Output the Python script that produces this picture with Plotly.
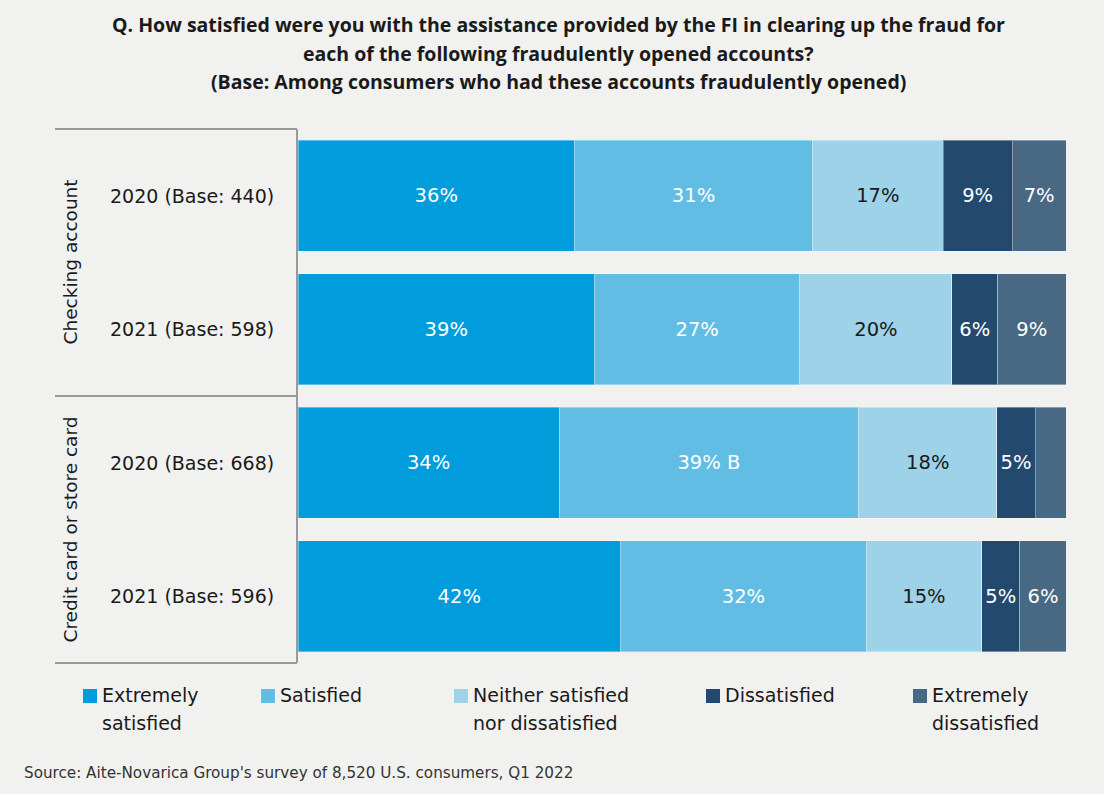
import plotly.graph_objects as go

# Survey data: share of respondents per satisfaction level
groups = ["Checking account", "Credit card or store card"]
row_labels = ["2020 (Base: 440)", "2021 (Base: 598)", "2020 (Base: 668)", "2021 (Base: 596)"]
row_keys = ["chk_2020", "chk_2021", "cc_2020", "cc_2021"]

levels = ["Extremely satisfied", "Satisfied", "Neither satisfied nor dissatisfied",
          "Dissatisfied", "Extremely dissatisfied"]
legend_lines = [["Extremely", "satisfied"], ["Satisfied"], ["Neither satisfied", "nor dissatisfied"],
                ["Dissatisfied"], ["Extremely", "dissatisfied"]]

extremely_satisfied = [36, 39, 34, 42]
satisfied = [31, 27, 39, 32]
neither = [17, 20, 18, 15]
dissatisfied = [9, 6, 5, 5]
extremely_dissatisfied = [7, 9, 4, 6]

# Significance markers appended to a value label
sig_marks = {("Satisfied", "cc_2020"): " B"}
# Values too small to label
hidden_labels = {("Extremely dissatisfied", "cc_2020")}

title_lines = [
    "Q. How satisfied were you with the assistance provided by the FI in clearing up the fraud for",
    "each of the following fraudulently opened accounts?",
    "(Base: Among consumers who had these accounts fraudulently opened)",
]
source = "Source: Aite-Novarica Group's survey of 8,520 U.S. consumers, Q1 2022"

series = [extremely_satisfied, satisfied, neither, dissatisfied, extremely_dissatisfied]
colors = ["#009cdc", "#62bde4", "#9dd2e8", "#234a6e", "#496883"]
text_colors = ["#ffffff", "#ffffff", "#1a1a1a", "#ffffff", "#ffffff"]

BG = "#f1f1ef"
FONT = "'DejaVu Sans', sans-serif"
TITLE_FONT = "'Open Sans', sans-serif"
INK = "#1a1a1a"
W, H = 1104, 794
L, R, T, B = 298, 38, 129, 131


def px_x(px):
    return (px - L) / (W - L - R)


def px_y(py):
    return (H - B - py) / (H - T - B)


fig = go.Figure()
for name, vals, col, tcol in zip(levels, series, colors, text_colors):
    labels = []
    for key, v in zip(row_keys, vals):
        if (name, key) in hidden_labels:
            labels.append("")
        else:
            labels.append(f"{v}%" + sig_marks.get((name, key), ""))
    fig.add_trace(go.Bar(
        y=row_keys, x=vals, orientation="h", name=name,
        marker=dict(color=col, line=dict(color="rgba(255,255,255,0.35)", width=1)),
        text=labels, textposition="inside", insidetextanchor="middle",
        textangle=0, constraintext="none",
        textfont=dict(color=tcol, size=19.5, family=FONT),
        hoverinfo="skip", showlegend=False,
    ))

fig.update_layout(
    barmode="stack", barnorm="percent", bargap=0.17,
    width=W, height=H, paper_bgcolor=BG, plot_bgcolor=BG,
    margin=dict(l=L, r=R, t=T, b=B),
    font=dict(family=FONT, color=INK),
    xaxis=dict(range=[0, 100], visible=False, fixedrange=True),
    yaxis=dict(categoryorder="array", categoryarray=row_keys, autorange="reversed",
               visible=False, fixedrange=True),
)

# Title, one annotation per line for wider leading
for i, line in enumerate(title_lines):
    fig.add_annotation(
        xref="paper", yref="paper", x=px_x(558), y=px_y(24 + 29 * i),
        xanchor="center", yanchor="middle", text=f"<b>{line}</b>",
        showarrow=False, font=dict(size=19.5, color=INK, family=TITLE_FONT),
    )

# Row labels
for key, lab in zip(row_keys, row_labels):
    fig.add_annotation(xref="paper", yref="y", x=px_x(192), y=key, text=lab,
                       showarrow=False, xanchor="center", yanchor="middle",
                       font=dict(size=19, color=INK, family=FONT))

# Group labels (rotated) and bracket lines
for i, g in enumerate(groups):
    fig.add_annotation(xref="paper", yref="paper", x=px_x(70), y=0.75 - 0.5 * i, text=g,
                       textangle=-90, showarrow=False, xanchor="center", yanchor="middle",
                       font=dict(size=18.5, color=INK, family=FONT))

line_style = dict(color="#9a9a9a", width=2)
for yy in (0, 0.5, 1):
    fig.add_shape(type="line", xref="paper", yref="paper", x0=px_x(55), x1=px_x(297),
                  y0=yy, y1=yy, line=line_style)
fig.add_shape(type="line", xref="paper", yref="paper", x0=px_x(297), x1=px_x(297),
              y0=0, y1=1, line=line_style)

# Legend
legend_x = [83, 261, 454, 706, 913]
for lx, col, lines in zip(legend_x, colors, legend_lines):
    fig.add_shape(type="rect", xref="paper", yref="paper",
                  x0=px_x(lx), x1=px_x(lx + 14), y0=px_y(703), y1=px_y(689),
                  fillcolor=col, line=dict(width=0))
    for j, txt in enumerate(lines):
        fig.add_annotation(xref="paper", yref="paper", x=px_x(lx + 17), y=px_y(695 + 28 * j),
                           xanchor="left", yanchor="middle", align="left", text=txt,
                           showarrow=False, font=dict(size=19, color=INK, family=FONT))

# Source note
fig.add_annotation(xref="paper", yref="paper", x=px_x(22), y=px_y(773), xanchor="left",
                   yanchor="middle", showarrow=False, text=source,
                   font=dict(size=15.2, color="#333333", family=FONT))

fig.write_html("out.html")
